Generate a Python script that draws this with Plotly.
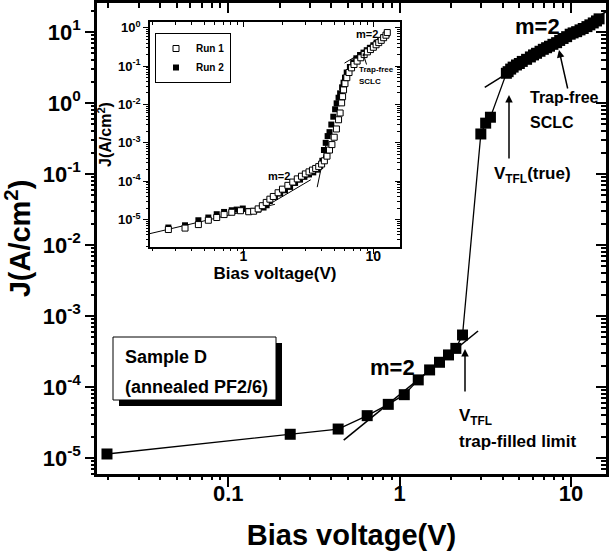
import plotly.graph_objects as go

# ---------------- data ----------------
# main curve (Sample D, annealed PF2/6)
main_v = [0.0196, 0.23, 0.438, 0.647, 0.859, 1.065, 1.285, 1.497, 1.71, 1.93, 2.13, 2.33,
          2.98, 3.18, 3.39, 4.2,
          4.30, 4.45, 4.6, 4.81, 5.0, 5.2, 5.51, 5.8, 6.05, 6.30, 6.6, 6.9, 7.21, 7.5,
          7.85, 8.25, 8.6, 9.0, 9.44, 9.9, 10.3, 10.8, 11.3, 11.8, 12.4, 12.9, 13.5, 14.1, 14.6]
main_j = [1.14e-5, 2.16e-5, 2.56e-5, 3.95e-5, 5.7e-5, 7.8e-5, 1.26e-4, 1.74e-4, 2.23e-4, 2.83e-4, 3.5e-4, 5.4e-4,
          0.366, 0.52, 0.63, 2.62,
          2.76, 3.0, 3.2, 3.43, 3.6, 3.85, 4.12, 4.45, 4.75, 5.01, 5.35, 5.7, 6.0, 6.3,
          6.7, 7.07, 7.6, 8.1, 8.59, 9.3, 9.7, 10.1, 10.7, 11.2, 11.9, 12.6, 13.4, 14.3, 15.3]

# m=2 fit lines (main)
fit_low_v = [0.472, 2.87]
fit_low_j = [1.79e-5, 6.15e-4]
fit_high_v = [3.14, 16.9]
fit_high_j = [1.66, 20.9]

# inset: Run 1 (open squares)
run1_v = [0.265, 0.356, 0.451, 0.538, 0.624, 0.711, 0.815, 0.95, 1.1, 1.2, 1.3, 1.4, 1.5, 1.6, 1.7,
          1.85, 2.0, 2.2, 2.4, 2.6, 2.8, 3.0, 3.2, 3.4, 3.6, 3.8, 4.0, 4.2, 4.4, 4.6, 4.8, 5.0,
          5.2, 5.4, 5.55, 5.7, 5.8, 5.9, 6.05, 6.25, 6.5, 6.8, 7.1, 7.5, 8.0, 8.5, 9.0, 9.5,
          10.0, 10.5, 11.0, 11.5, 12.0, 12.5, 12.8]
run1_j = [5.5e-6, 6.0e-6, 7.4e-6, 9.6e-6, 1.13e-5, 1.35e-5, 1.55e-5, 1.7e-5, 1.6e-5, 1.65e-5, 1.9e-5,
          2.3e-5, 2.8e-5, 3.4e-5, 4.0e-5, 5.0e-5, 6.2e-5, 7.8e-5, 9.5e-5, 1.15e-4, 1.35e-4, 1.55e-4,
          1.75e-4, 1.95e-4, 2.15e-4, 2.4e-4, 2.8e-4, 3.4e-4, 4.5e-4, 6.5e-4, 9e-4, 1.4e-3,
          2.3e-3, 4e-3, 6e-3, 0.011, 0.016, 0.024, 0.035, 0.05, 0.068, 0.09, 0.11, 0.135, 0.165,
          0.2, 0.235, 0.27, 0.31, 0.36, 0.41, 0.47, 0.55, 0.64, 0.75]

# inset: Run 2 (filled squares)
run2_v = [0.265, 0.356, 0.451, 0.538, 0.624, 0.711, 0.815, 0.889, 0.99, 1.09, 1.19, 1.30, 1.43, 1.51,
          1.60, 1.75, 1.92, 2.09, 2.29, 2.50, 2.73, 2.95, 3.2, 3.45, 3.7, 3.9, 4.05, 4.17, 4.3,
          4.45, 4.6, 4.75, 4.92, 5.08, 5.22, 5.4, 5.55, 5.75, 5.9, 6.05, 6.24, 6.6, 7.0, 7.4,
          7.9, 8.4, 8.9, 9.4, 10.0, 10.6, 11.3, 12.0, 12.7]
run2_j = [6.2e-6, 7.1e-6, 9.6e-6, 1.13e-5, 1.38e-5, 1.58e-5, 1.75e-5, 1.82e-5, 1.94e-5, 1.68e-5,
          1.68e-5, 1.82e-5, 2.06e-5, 2.36e-5, 3.06e-5, 3.9e-5, 4.8e-5, 5.8e-5, 7.1e-5, 9.0e-5,
          1.1e-4, 1.3e-4, 1.5e-4, 1.7e-4, 2.0e-4, 2.5e-4, 3.4e-4, 6.5e-4, 1.0e-3, 1.5e-3, 1.9e-3,
          3.0e-3, 4.8e-3, 7.5e-3, 0.0107, 0.015, 0.0195, 0.028, 0.037, 0.05, 0.068, 0.095, 0.125,
          0.16, 0.195, 0.225, 0.26, 0.3, 0.35, 0.41, 0.48, 0.57, 0.7]

# inset fit lines
in_fit1_v = [0.191, 1.75]
in_fit1_j = [4.3e-6, 2.5e-5]
in_fit2_v = [1.55, 3.3]
in_fit2_j = [2.4e-5, 1.09e-4]
in_fit3_v = [3.7, 4.4]
in_fit3_j = [7e-5, 1.2e-3]
in_fit4_v = [6.0, 8.5]
in_fit4_j = [0.12, 0.24]

# tick labels
main_ytick_vals = [10, 1, 0.1, 0.01, 1e-3, 1e-4, 1e-5]
main_ytick_text = ["10<sup>1</sup>", "10<sup>0</sup>", "10<sup>-1</sup>", "10<sup>-2</sup>",
                   "10<sup>-3</sup>", "10<sup>-4</sup>", "10<sup>-5</sup>"]
main_xtick_vals = [0.1, 1, 10]
main_xtick_text = ["0.1", "1", "10"]
in_ytick_vals = [1, 0.1, 0.01, 1e-3, 1e-4, 1e-5]
in_ytick_text = ["10<sup>0</sup>", "10<sup>-1</sup>", "10<sup>-2</sup>", "10<sup>-3</sup>",
                 "10<sup>-4</sup>", "10<sup>-5</sup>"]
in_xtick_vals = [1, 10]
in_xtick_text = ["1", "10"]

# ---------------- layout helpers ----------------
W, H = 610, 556
L, R, T, B = 97, 606, 3, 474
def PX(x):
    return (x - L) / (R - L)
def PY(y):
    return (B - y) / (B - T)

FONT = "Liberation Sans, Arial, sans-serif"

def minors(e0, e1):
    return [m * 10.0 ** e for e in range(e0, e1) for m in range(2, 10)]

main_xrange = [-1.766, 1.2047]
main_yrange = [-5.225, 1.408]
in_xrange = [-0.718, 1.205]
in_yrange = [-5.715, 0.15]

in_dom_x = [PX(150), PX(400)]
in_dom_y = [PY(247), PY(22)]

fig = go.Figure()

# main traces
fig.add_trace(go.Scatter(x=main_v, y=main_j, mode="lines+markers",
                         line=dict(color="black", width=1.3),
                         marker=dict(symbol="square", size=11, color="black"),
                         showlegend=False))
fig.add_trace(go.Scatter(x=fit_low_v, y=fit_low_j, mode="lines",
                         line=dict(color="black", width=1.6), showlegend=False))
fig.add_trace(go.Scatter(x=fit_high_v, y=fit_high_j, mode="lines",
                         line=dict(color="black", width=1.6), showlegend=False))

# inset traces
for fv, fj in [(in_fit1_v, in_fit1_j), (in_fit2_v, in_fit2_j), (in_fit3_v, in_fit3_j), (in_fit4_v, in_fit4_j)]:
    fig.add_trace(go.Scatter(x=fv, y=fj, mode="lines", xaxis="x2", yaxis="y2",
                             line=dict(color="black", width=1), showlegend=False))
fig.add_trace(go.Scatter(x=run2_v, y=run2_j, mode="markers", xaxis="x2", yaxis="y2", name="Run 2",
                         marker=dict(symbol="square", size=6, color="black")))
fig.add_trace(go.Scatter(x=run1_v, y=run1_j, mode="markers", xaxis="x2", yaxis="y2", name="Run 1",
                         marker=dict(symbol="square", size=6, color="white",
                                     line=dict(color="black", width=1))))

tickfont_main = dict(family=FONT, size=22, color="black", weight="bold")
tickfont_in = dict(family=FONT, size=13, color="black", weight="bold")

layout_axes = {}

def base_axis(rng, vals, text, tickfont, ticklen, tickwidth, linewidth, title, title_size, standoff, **kw):
    d = dict(type="log", range=rng, showgrid=False, zeroline=False, automargin=False,
             showline=True, linecolor="black", linewidth=linewidth, mirror=True,
             ticks="outside", ticklen=ticklen, tickwidth=tickwidth, tickcolor="black",
             tickmode="array", tickvals=vals, ticktext=text, tickfont=tickfont,
             title=dict(text=title, standoff=standoff,
                        font=dict(family=FONT, size=title_size, weight="bold", color="black")))
    d.update(kw)
    return d

def tick_axis(rng, vals, overlay, anchor, side, ticks, ticklen, tickwidth):
    return dict(type="log", range=rng, overlaying=overlay, anchor=anchor, side=side,
                showgrid=False, zeroline=False, showline=False, showticklabels=False,
                automargin=False, ticks=ticks, ticklen=ticklen, tickwidth=tickwidth,
                tickcolor="black", tickmode="array", tickvals=vals)

layout_axes["xaxis"] = base_axis(main_xrange, main_xtick_vals, main_xtick_text, tickfont_main,
                                 10, 1.5, 2.5, "Bias voltage(V)", 29, 20, ticklabelstandoff=-12)
layout_axes["yaxis"] = base_axis(main_yrange, main_ytick_vals, main_ytick_text, tickfont_main,
                                 9, 1.5, 2.5, "J(A/cm<sup>2</sup>)", 29, 4)
layout_axes["xaxis2"] = base_axis(in_xrange, in_xtick_vals, in_xtick_text,
                                  dict(family=FONT, size=14, color="black", weight="bold"),
                                  5, 1, 1.5, "Bias voltage(V)", 17, 2, domain=in_dom_x, anchor="y2",
                                  ticklabelstandoff=-10)
layout_axes["yaxis2"] = base_axis(in_yrange, in_ytick_vals, in_ytick_text, tickfont_in,
                                  5, 1, 1.5, "J(A/cm<sup>2</sup>)", 16, 2, domain=in_dom_y, anchor="x2")

# extra tick-only axes (twin axes overlaying the main ones)
tick_sets = [
    ("3", "5", "7", "x", "y", main_xrange, main_yrange, main_xtick_vals, main_ytick_vals,
     minors(-2, 1), minors(-6, 2), 10, 5, 1.5),
    ("4", "6", "8", "x2", "y2", in_xrange, in_yrange, in_xtick_vals, in_ytick_vals,
     minors(-1, 1), minors(-6, 1), 5, 3, 1),
]
for top_id, minb_id, mint_id, bx, by, xr, yr, xmaj, ymaj, xmin, ymin, mlen, nlen, tw in tick_sets:
    layout_axes["xaxis" + top_id] = tick_axis(xr, xmaj, bx, by, "top", "inside", mlen, tw)
    layout_axes["yaxis" + top_id] = tick_axis(yr, ymaj, by, bx, "right", "inside", mlen, tw)
    layout_axes["xaxis" + minb_id] = tick_axis(xr, xmin, bx, by, "bottom", "outside", nlen, tw)
    layout_axes["yaxis" + minb_id] = tick_axis(yr, ymin, by, bx, "left", "outside", nlen, tw)
    layout_axes["xaxis" + mint_id] = tick_axis(xr, xmin, bx, by, "top", "inside", nlen, tw)
    layout_axes["yaxis" + mint_id] = tick_axis(yr, ymin, by, bx, "right", "inside", nlen, tw)
    for aid in (top_id, minb_id, mint_id):
        fig.add_trace(go.Scatter(x=[1], y=[1e-3], xaxis="x" + aid, yaxis=by, mode="markers",
                                 marker=dict(opacity=0), showlegend=False, hoverinfo="skip"))
        fig.add_trace(go.Scatter(x=[1], y=[1e-3], xaxis=bx, yaxis="y" + aid, mode="markers",
                                 marker=dict(opacity=0), showlegend=False, hoverinfo="skip"))

fig.update_layout(
    template="none",
    width=W, height=H,
    margin=dict(l=L, r=W - R, t=T, b=H - B, autoexpand=False),
    paper_bgcolor="white", plot_bgcolor="white",
    font=dict(family=FONT, color="black"),
    legend=dict(x=PX(155), y=PY(33), xanchor="left", yanchor="top",
                bgcolor="white", bordercolor="black", borderwidth=1,
                font=dict(family=FONT, size=10, weight="bold", color="black"),
                traceorder="reversed", tracegroupgap=0, itemwidth=30),
    **layout_axes,
)

# sample box with shadow
fig.add_shape(type="rect", xref="paper", yref="paper",
              x0=PX(119), x1=PX(282), y0=PY(406), y1=PY(343),
              fillcolor="black", line=dict(color="black", width=0))
fig.add_shape(type="rect", xref="paper", yref="paper",
              x0=PX(113), x1=PX(276), y0=PY(400), y1=PY(337),
              fillcolor="white", line=dict(color="black", width=1))

def txt(x, y, s, size, xanchor="left", yanchor="middle"):
    fig.add_annotation(x=PX(x), y=PY(y), xref="paper", yref="paper", text=s, showarrow=False,
                       xanchor=xanchor, yanchor=yanchor,
                       font=dict(family=FONT, size=size, color="black", weight="bold"))

def arrow(hx, hy, tx, ty, width=1.5, size=1.0):
    fig.add_annotation(x=PX(hx), y=PY(hy), xref="paper", yref="paper",
                       ax=tx - hx, ay=ty - hy,
                       text="", showarrow=True, arrowhead=2, arrowsize=size,
                       arrowwidth=width, arrowcolor="black")

txt(123, 357, "Sample D", 18)
txt(123, 387, "(annealed PF2/6)", 18)
txt(537, 27, "m=2", 22, xanchor="center")
txt(528, 98, "Trap-free", 16)
txt(528, 122, "SCLC", 16)
txt(492, 175, "V<sub>TFL</sub>(true)", 17)
txt(392, 367, "m=2", 22, xanchor="center")
txt(457, 417, "V<sub>TFL</sub>", 17)
txt(457, 441, "trap-filled limit", 17)

arrow(559, 50, 568, 90)
arrow(509, 95, 509, 160)
arrow(465, 349, 465, 393)

# inset annotations
txt(279, 176, "m=2", 11, xanchor="center")
txt(367, 34, "m=2", 11, xanchor="center")
txt(357, 70, "Trap-free", 8)
txt(357, 82, "SCLC", 8)
arrow(363, 53, 367, 66, width=1, size=0.6)

fig.write_html("out.html",
               config={"displayModeBar": False},
               post_script="document.body.style.margin='0';document.body.style.padding='0';")
